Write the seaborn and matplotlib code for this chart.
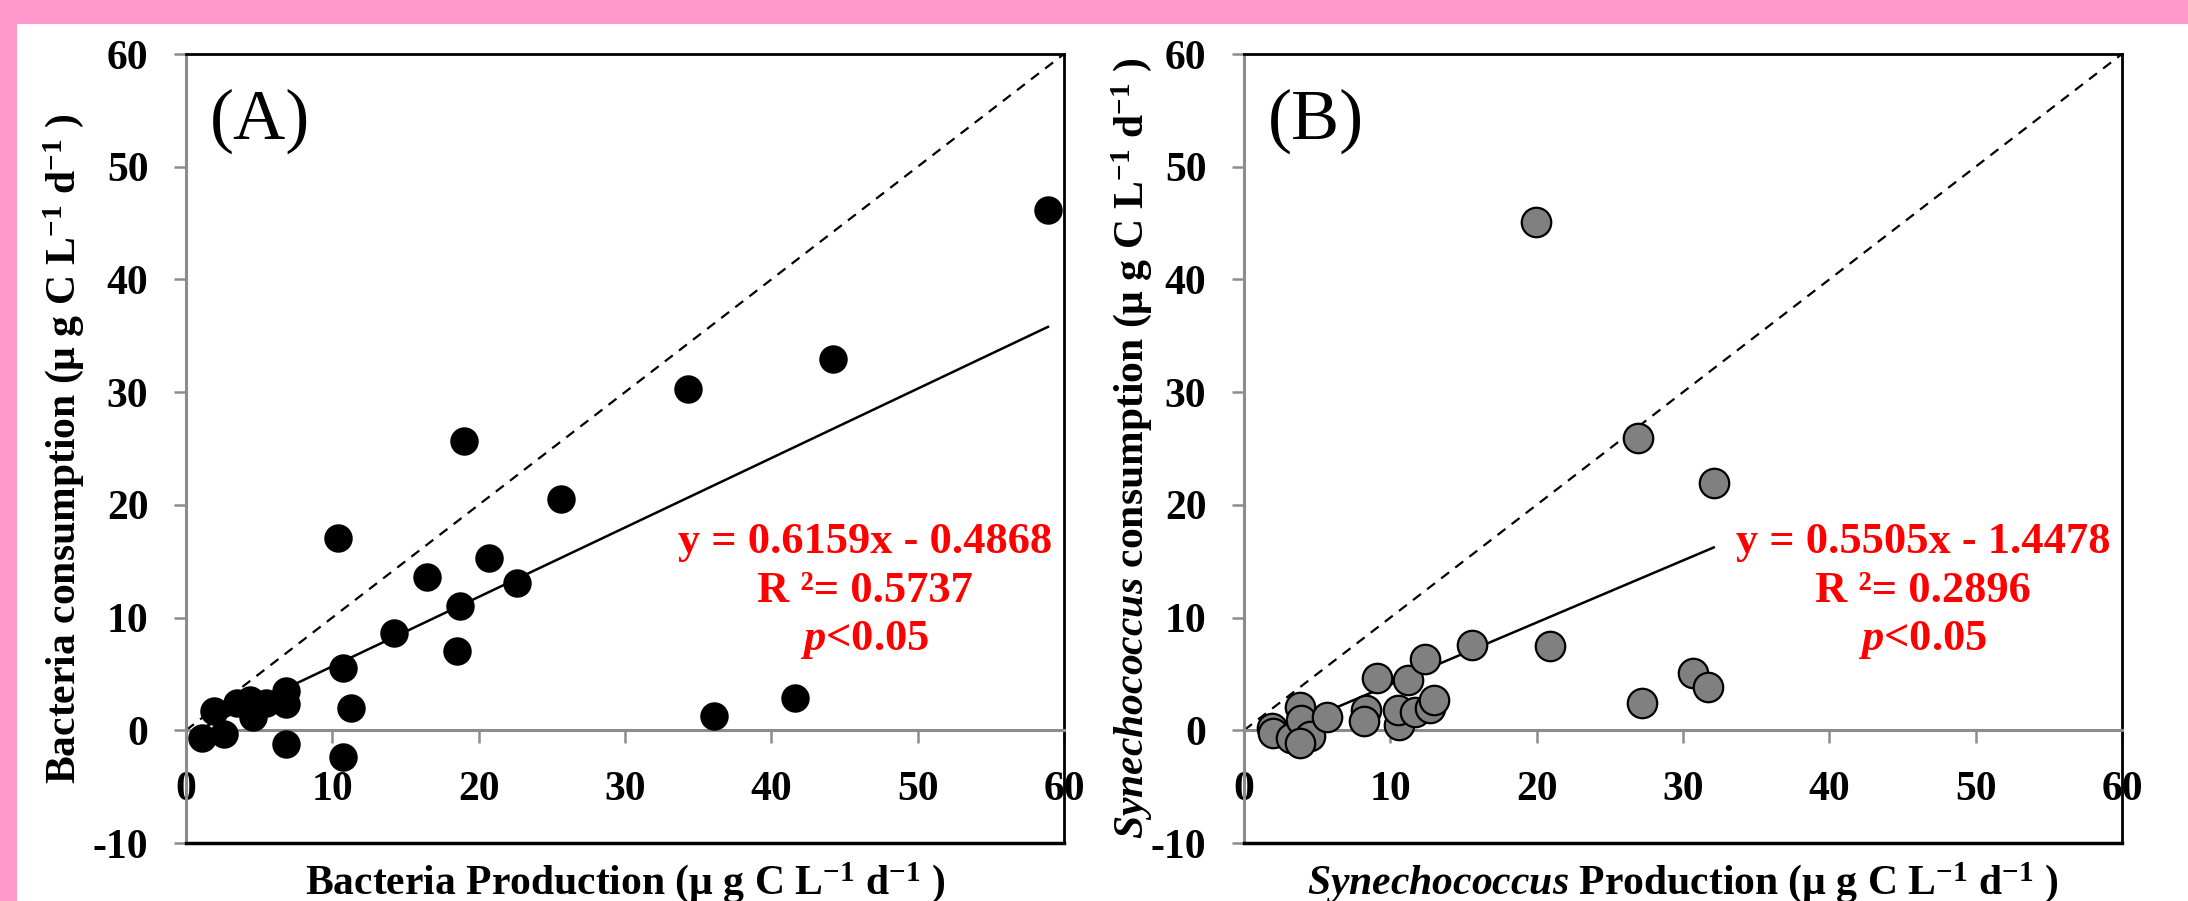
import numpy as np
import pandas as pd
import matplotlib
matplotlib.use("Agg")
import matplotlib.pyplot as plt
from matplotlib.patches import Rectangle
import seaborn as sns

# ---------------- data ----------------
bact_prod = [1.1, 2.6, 1.9, 3.5, 4.4, 4.6, 5.5, 6.8, 6.8, 6.8, 10.7, 11.3, 10.7,
             14.2, 18.5, 18.7, 16.5, 22.6, 20.7, 10.4, 25.6, 19.0, 34.3, 44.2,
             58.9, 41.6, 36.1]
bact_cons = [-0.7, -0.3, 1.7, 2.4, 2.7, 1.2, 2.4, 3.5, 2.3, -1.2, 5.5, 2.0, -2.4,
             8.6, 7.0, 11.0, 13.6, 13.1, 15.3, 17.1, 20.5, 25.7, 30.3, 32.9,
             46.2, 2.9, 1.3]

syn_prod = [1.9, 2.0, 3.2, 3.8, 3.9, 4.5, 3.8, 5.7, 8.35, 8.2, 9.1, 11.2, 10.6,
            10.5, 11.7, 12.7, 13.0, 12.4, 15.6, 20.9, 27.2, 30.7, 31.7, 19.95,
            26.9, 32.1]
syn_cons = [0.2, -0.2, -0.7, 2.1, 0.95, -0.5, -1.1, 1.2, 1.8, 0.8, 4.65, 4.5, 0.5,
            1.8, 1.6, 2.0, 2.7, 6.3, 7.6, 7.5, 2.4, 5.1, 3.85, 45.1, 25.9, 21.9]

fit_a = (0.6159, -0.4868)
fit_b = (0.5505, -1.4478)
stats_a = ["y = 0.6159x - 0.4868", "R \u00b2= 0.5737"]
stats_b = ["y = 0.5505x - 1.4478", "R \u00b2= 0.2896"]
p_text = "$\\mathsf{p}$<0.05"
panel_labels = ["(A)", "(B)"]
xticks = [0, 10, 20, 30, 40, 50, 60]
yticks = [-10, 0, 10, 20, 30, 40, 50, 60]

xlabel_a = "Bacteria Production (\u03bc g C L$^{-1}$ d$^{-1}$ )"
ylabel_a = "Bacteria consumption (\u03bc g C L$^{-1}$ d$^{-1}$ )"
xlabel_b = "$\\mathit{Synechococcus}$ Production (\u03bc g C L$^{-1}$ d$^{-1}$ )"
ylabel_b = "$\\mathit{Synechococcus}$ consumption (\u03bc g C L$^{-1}$ d$^{-1}$ )"

# ---------------- style ----------------
plt.rcParams["font.family"] = ["Liberation Serif", "DejaVu Serif"]
plt.rcParams["font.weight"] = "bold"
plt.rcParams["axes.unicode_minus"] = False
plt.rcParams["mathtext.fontset"] = "custom"
plt.rcParams["mathtext.rm"] = "Liberation Serif:bold"
plt.rcParams["mathtext.bf"] = "Liberation Serif:bold"
plt.rcParams["mathtext.it"] = "Liberation Serif:italic"
plt.rcParams["mathtext.sf"] = "Liberation Serif:bold:italic"
plt.rcParams["mathtext.default"] = "rm"

GRAY = "#8c8c8c"
PINK = "#FF99CC"

fig = plt.figure(figsize=(21.88, 9.01), dpi=100)
fig.patch.set_facecolor("white")
fig.patches.append(Rectangle((0, 1 - 24 / 901), 1, 24 / 901, transform=fig.transFigure,
                             facecolor=PINK, edgecolor="none", zorder=-10))
fig.patches.append(Rectangle((0, 0), 17 / 2188, 1, transform=fig.transFigure,
                             facecolor=PINK, edgecolor="none", zorder=-10))

bottom = 1 - 843 / 901
height = (843 - 54) / 901
axA = fig.add_axes([186 / 2188, bottom, 878 / 2188, height])
axB = fig.add_axes([1244 / 2188, bottom, 878 / 2188, height])

dfA = pd.DataFrame({"x": bact_prod, "y": bact_cons})
dfB = pd.DataFrame({"x": syn_prod, "y": syn_cons})


def style_axes(ax):
    ax.set_xlim(0, 60)
    ax.set_ylim(-10, 60)
    ax.set_xticks(xticks)
    ax.set_yticks(yticks)
    ax.spines["bottom"].set_position(("data", 0))
    ax.spines["bottom"].set_color(GRAY)
    ax.spines["bottom"].set_linewidth(2.2)
    ax.spines["left"].set_color(GRAY)
    ax.spines["left"].set_linewidth(2.2)
    ax.spines["top"].set_color("black")
    ax.spines["top"].set_linewidth(2.0)
    ax.spines["right"].set_color("black")
    ax.spines["right"].set_linewidth(2.0)
    ax.axhline(-10, color="black", lw=2.5, clip_on=False, zorder=3)
    ax.tick_params(axis="x", direction="out", length=9, width=1.8, color=GRAY,
                   pad=20, labelsize=30)
    ax.tick_params(axis="y", direction="out", length=9, width=1.8, color=GRAY,
                   pad=18, labelsize=30)
    for lab in ax.get_xticklabels() + ax.get_yticklabels():
        lab.set_fontweight("bold")
    ax.set_facecolor("white")


for ax, df, fit, stats, lab, xl, yl, fc, ylx in [
    (axA, dfA, fit_a, stats_a, panel_labels[0], xlabel_a, ylabel_a, "black", -0.14),
    (axB, dfB, fit_b, stats_b, panel_labels[1], xlabel_b, ylabel_b, "#808080", -0.128),
]:
    style_axes(ax)
    # 1:1 line
    ax.plot([0, 60], [0, 60], ls=(0, (4.5, 3.5)), color="black", lw=1.6, zorder=2)
    # regression line over the data range
    xs = np.array([min(df["x"]), max(df["x"])])
    ax.plot(xs, fit[0] * xs + fit[1], color="black", lw=1.8, zorder=2)
    sns.scatterplot(data=df, x="x", y="y", ax=ax, s=420 if fc == "black" else 450,
                    color=fc, edgecolor="black", linewidth=0 if fc == "black" else 1.6,
                    zorder=4, clip_on=False, legend=False)
    ax.set_xlabel(xl, fontsize=30, fontweight="bold")
    ax.set_ylabel(yl, fontsize=30, fontweight="bold")
    ax.xaxis.set_label_coords(0.5, -0.05)
    ax.xaxis.label.set_va("center")
    ax.yaxis.set_label_coords(ylx, 0.5)
    ax.yaxis.label.set_va("center")
    ax.text(1.64, 54.0, lab, fontsize=52, fontweight="normal", va="center",
            ha="left", family="Liberation Serif")
    ax.text(46.4, 15.7, stats[0], color="red", fontsize=32, fontweight="bold",
            ha="center", va="baseline")
    ax.text(46.4, 11.4, stats[1], color="red", fontsize=32, fontweight="bold",
            ha="center", va="baseline")
    ax.text(46.4, 7.1, p_text, color="red", fontsize=32, fontweight="bold",
            ha="center", va="baseline")

fig.savefig("out.png", dpi=100, facecolor="white")
